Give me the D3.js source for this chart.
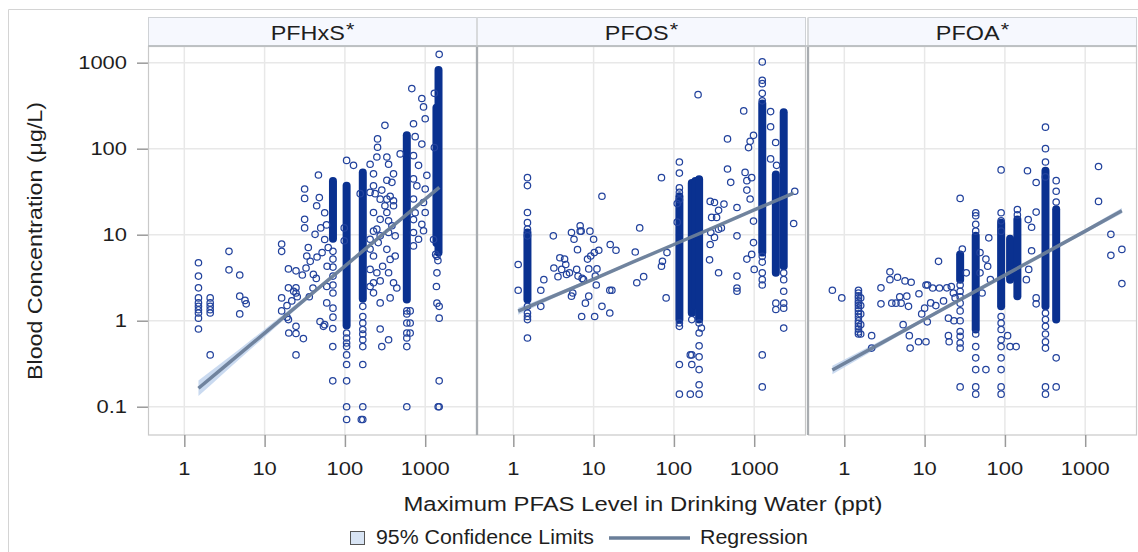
<!DOCTYPE html>
<html>
<head>
<meta charset="utf-8">
<script src="https://cdn.jsdelivr.net/npm/d3@7"></script>
<style>
  html, body { margin: 0; padding: 0; background: #fff; }
  svg { display: block; font-family: "Liberation Sans", Arial, sans-serif; }
</style>
</head>
<body>
<svg id="chart" width="1138" height="552"></svg>
<script>
// ---- Panel names ----
const panelNames = ["PFHxS", "PFOS", "PFOA"];

// ---- Tick labels ----
const xTickValues = [1, 10, 100, 1000];
const yTickValues = [0.1, 1, 10, 100, 1000];

// ---- PFHxS: individual observations [water ppt, blood µg/L] ----
const pfhxsPoints = [
  [1.5,4.72],[1.5,3.3],[1.5,2.41],[1.5,1.84],[1.5,1.61],[1.5,1.47],[1.5,1.34],[1.5,1.23],[1.5,1.07],[1.5,0.8],
  [2.1,1.84],[2.1,1.61],[2.1,1.47],[2.1,1.34],[2.1,1.23],[2.1,0.4],
  [3.6,6.4],[3.6,3.9],[4.9,3.4],[4.9,1.93],[5.7,1.72],[5.9,1.57],[4.9,1.2],
  [16.3,7.8],[16.3,6.4],[19.8,4.0],[24.6,3.8],[29.5,3.4],[19.8,2.41],[24.6,2.41],[24.6,2.1],[23,2.2],[25.5,1.9],
  [16.3,1.84],[21.8,1.7],[19,1.5],[16.3,1.3],[19,1.1],[19.8,1.03],[24.6,0.86],[20,0.72],[24.6,0.71],[30.4,0.62],[24.6,0.4],
  [31.5,34],[31.5,26.4],[31.5,15.1],[31.5,12],[44.5,21.7],[42.5,10.1],[35,7.1],[33.5,5.65],[37,4.9],[32.8,4.1],
  [40.5,3.45],[44,3.1],[46.8,49.5],[49,0.98],[54,0.86],[56,0.9],[59.4,1.61],[60,4.3],[62,7.1],[59.4,2.5],
  [70.6,0.81],[70.6,0.5],[70.6,0.2],[56,18],[59,13],[56,8.8],[36,1.9],[40,2.4],[45,5.5],[50,12],[52,6.2],[48,27],
  [71,6.4],[71,5.2],[71,4.2],[71,3.3],[71,2.6],[71,2.1],[71,1.4],[71,1.1],
  [105,73],[128,64],[105,0.72],[105,0.63],[105,0.55],[105,0.5],[105,0.4],[105,0.31],[105,0.2],[105,0.1],[105,0.071],[98,8.5],[98,12],
  [167,1.47],[167,1.12],[167,0.94],[167,0.79],[167,0.7],[167,0.6],[167,0.5],[167,0.31],[167,0.1],[167,0.071],[160,0.071],[155,30],
  [206,66],[227,51],[255,130],[255,104],[315,187],[250,80],[333,80],[350,66],[403,51],[333,43],[385,40.6],[238,30],
  [275,25.9],[333,25.9],[403,24.8],[227,18.1],[333,18.1],[403,21.7],[275,15.1],[350,14.5],[250,11.6],[350,10.6],
  [423,9.7],[206,8.85],[275,9.7],[227,5.65],[333,6.76],[366,5.16],[423,5.65],[206,3.95],[250,3.61],[350,3.61],
  [227,2.76],[275,2.9],[403,2.76],[227,2.11],[366,1.84],[275,1.61],[275,0.8],[350,0.6],[288,0.5],[443,2.4],[488,87],
  [206,31],[227,37],[288,33],[366,28],[315,21.7],[385,12.7],[227,11],[206,6.8],[260,8.1],[295,4.3],[206,2.5],
  [590,1.3],[590,1.2],[650,1.3],[590,0.94],[650,0.94],[590,0.72],[650,0.72],[590,0.63],[590,0.5],[590,0.1],
  [681,500],[908,383],[953,306],[1000,223],[715,195],[750,138],[908,113],[826,64],[1048,49],[1000,34],[953,23.7],
  [1000,18.1],[908,13.2],[953,11.1],[826,8.85],[715,83],[715,44.5],[715,26],[715,15],[715,10.6],[787,37],[750,18],[715,7.4],
  [1493,1250],[1400,5.6],[1350,5.9],[1440,5.0],[1400,3.6],[1380,2.5],[1400,1.6],[1493,1.47],[1493,1.07],[1493,0.2],
  [1450,0.1],[1493,0.1],[1270,8.8],[1300,103],[1300,440]
];
// PFHxS: densely overlapping stacks [water ppt, lowest, highest]
const pfhxsColumns = [
  [71, 9, 42], [105, 0.88, 37], [167, 1.8, 53], [590, 1.76, 143], [1380, 8, 300], [1465, 6.2, 820]
];
// PFHxS regression and 95% confidence limits
const pfhxsFitX  = [1.5, 3, 10, 30, 100, 300, 1000, 1500];
const pfhxsFit   = [0.164, 0.281, 0.718, 1.69, 4.32, 10.2, 25.9, 35.5];
const pfhxsLower = [0.133, 0.239, 0.647, 1.58, 4.12, 9.75, 24.7, 33.3];
const pfhxsUpper = [0.202, 0.33, 0.796, 1.81, 4.52, 10.6, 27.3, 37.9];

// ---- PFOS ----
const pfosPoints = [
  [1.5,46],[1.5,37.2],[1.5,18.1],[1.5,13.8],[1.5,11.6],[1.5,9.7],[1.5,1.47],[1.5,1.23],[1.5,1.12],[1.5,1.03],[1.5,0.63],
  [1.15,4.5],[1.15,2.26],[2.2,1.47],[2.2,2.26],[2.4,3.0],
  [3.15,9.7],[3.2,4.1],[3.6,3.25],[4.35,5.2],[4.5,4.5],[4.6,3.45],[5.3,10.6],[5.3,1.93],[5.7,8.85],[6.15,3.95],
  [6.3,6.7],[6.8,12.7],[7.0,11],[7.1,1.12],[7.5,3.0],[7.9,1.6],[8.4,5.2],[8.7,4],[8.7,1.93],[9.0,11],[10,8.85],
  [10.2,6.2],[10.3,1.12],[10.5,3.3],[10.8,2.6],[11,4],[11.6,6.6],[12.7,28],[12.7,1.47],[15.9,1.23],[15.9,2.26],
  [16.1,7.7],[16.9,2.26],[19,6.6],[33,6.3],[34.5,2.76],[37.5,12],[42,3.25],[70,46],[72,4.9],[70,4.3],[80,1.84],
  [82,6.2],[3.8,5.4],[4.0,3.95],[5.0,3.6],[5.5,2.1],[6.4,3.3],[7.2,3.1],[9.2,5.65],[6.8,11],
  [117,70],[117,52],[117,35],[117,31],[117,25.5],[117,0.94],[117,0.86],[117,0.31],[117,0.14],[110,23],[110,14],
  [167,1.03],[167,0.4],[160,0.4],[167,0.31],[160,0.14],
  [206,0.72],[206,0.51],[206,0.38],[206,0.27],[206,0.18],[206,0.14],[220,0.82],[206,0.94],
  [283,24.4],[320,23.7],[295,15.9],[420,22.7],[360,19.2],[288,10.6],[320,9.3],[360,11.6],[283,7.7],[278,5.1],
  [360,3.61],[465,130],[465,58],[510,40.6],[610,20.7],[610,9.7],[610,3.3],[610,2.4],[610,2.2],[740,275],[850,103],
  [890,122],[980,143],[770,53],[810,42.5],[930,46],[810,33],[890,26],[980,14.4],[980,8.1],[930,5.9],[810,5.2],
  [1000,3.95],[200,425],[340,15.9],[390,12],
  [1260,1020],[1260,625],[1260,570],[1260,440],[1260,360],[1260,5.6],[1260,4.8],[1260,3.6],[1260,3.0],[1260,2.6],
  [1260,0.4],[1260,0.17],
  [2330,3.6],[2330,3.0],[2330,2.2],[2330,1.6],[2330,1.4],[2330,0.82],[1860,1.6],[1860,1.35],
  [1600,270],[1600,180],[1900,64],[3200,32],[3100,13.5],[1850,118],[1600,76]
];
const pfosColumns = [
  [1.5, 1.76, 10.6], [117, 1.03, 28], [167, 1.23, 40], [185, 1.5, 42], [206, 1.03, 44],
  [1260, 6.2, 335], [1860, 3.6, 50], [2330, 4.3, 265]
];
const pfosFitX  = [1.15, 3.16, 10, 31.6, 100, 316, 1000, 3090];
const pfosFit   = [1.29, 1.93, 3.05, 4.85, 7.69, 12.2, 19.4, 30.5];
const pfosLower = [1.17, 1.82, 2.93, 4.7, 7.48, 11.9, 18.7, 29.0];
const pfosUpper = [1.41, 2.04, 3.18, 5.01, 7.91, 12.6, 20.0, 32.1];

// ---- PFOA ----
const pfoaPoints = [
  [0.71,2.26],[0.93,1.84],
  [1.5,2.26],[1.5,2.1],[1.5,1.95],[1.5,1.84],[1.5,1.7],[1.5,1.6],[1.5,1.5],[1.5,1.4],[1.5,1.3],[1.5,1.2],
  [1.5,1.1],[1.5,1.0],[1.5,0.93],[1.5,0.86],[1.5,0.8],[1.5,0.74],[1.5,0.7],
  [1.6,1.84],[1.6,1.5],[1.6,1.2],[1.6,0.9],[1.6,0.7],
  [2.19,0.67],[2.19,0.48],[2.86,2.41],[2.86,1.57],[3.7,3.7],[3.7,3.0],[4.6,3.2],[3.9,1.6],[4.4,1.6],[4.9,1.9],
  [5.1,1.6],[5.4,0.9],[5.7,2.9],[6.0,1.93],[6.3,1.47],[6.45,0.67],[6.6,0.48],[6.8,2.8],[8.5,2.06],[8.4,0.57],
  [10.4,0.57],[9.2,1.2],[10.4,2.6],[10.9,2.6],[10.0,1.4],[10.8,0.97],[11.9,1.61],[12.6,2.4],[13.8,1.5],[14.9,4.9],
  [15.3,2.4],[17.2,1.7],[18.9,2.41],[19.8,1.07],[19.8,0.67],[20.2,0.57],[21.5,2.5],[22.8,2.1],[24,1.84],[23.2,1.0],
  [27.7,26.4],[27.7,2.6],[27.7,2.2],[27.7,1.9],[27.7,1.6],[27.7,1.3],[27.7,1.0],[27.7,0.75],[27.7,0.66],
  [27.7,0.55],[27.7,0.48],[27.7,0.17],[29.5,6.8],[33,3.6],
  [43.3,18],[43.3,16.6],[43.3,13.2],[43.3,11],[43.3,0.7],[43.3,0.5],[43.3,0.37],[43.3,0.27],[43.3,0.17],[43.3,0.14],
  [49,6.2],[49,3.6],[52,2.1],[58,5.2],[61,4.3],[63,9.2],[66,3.0],[58,0.27],
  [89.7,56.6],[89.7,18],[89.7,14.5],[89.7,11],[89.7,1.12],[89.7,0.94],[89.7,0.79],[89.7,0.6],[89.7,0.5],
  [89.7,0.37],[89.7,0.27],[89.7,0.17],[89.7,0.14],
  [143,19.6],[143,17],[116,0.5],[138,0.5],[108,0.67],
  [191,55.4],[245,40.5],[195,15],[215,12.2],[245,18.3],[215,6.5],[198,3.95],[185,3.0],[245,1.84],[245,1.57],
  [320,178],[320,100],[320,70],[320,47],[320,1.23],[320,1.03],[320,0.86],[320,0.7],[320,0.57],[320,0.48],
  [320,0.17],[320,0.14],
  [435,42.5],[435,32],[435,24],[435,0.37],[435,0.17],
  [1465,62],[1465,24.4],[2088,10.1],[2088,5.75],[2863,6.75],[2863,2.7]
];
const pfoaColumns = [
  [27.7, 3.0, 5.9], [43.3, 0.79, 9.7], [89.7, 1.47, 13.8], [116, 3.0, 9], [143, 1.93, 15],
  [320, 1.47, 55.5], [435, 1.03, 19.8]
];
const pfoaFitX  = [0.71, 3.16, 10, 31.6, 100, 316, 1000, 2860];
const pfoaFit   = [0.267, 0.575, 1.04, 1.88, 3.39, 6.11, 11.0, 19.0];
const pfoaLower = [0.238, 0.537, 0.993, 1.82, 3.3, 5.92, 10.5, 17.6];
const pfoaUpper = [0.3, 0.617, 1.09, 1.94, 3.48, 6.31, 11.6, 20.4];

// ---- Titles and legend labels ----
const xTitle = "Maximum PFAS Level in Drinking Water (ppt)";
const yTitle = "Blood Concentration (μg/L)";
const legendBand = "95% Confidence Limits";
const legendLine = "Regression";

const panels = [
  { name: panelNames[0], points: pfhxsPoints, columns: pfhxsColumns, fx: pfhxsFitX, fit: pfhxsFit, lo: pfhxsLower, hi: pfhxsUpper },
  { name: panelNames[1], points: pfosPoints,  columns: pfosColumns,  fx: pfosFitX,  fit: pfosFit,  lo: pfosLower,  hi: pfosUpper },
  { name: panelNames[2], points: pfoaPoints,  columns: pfoaColumns,  fx: pfoaFitX,  fit: pfoaFit,  lo: pfoaLower,  hi: pfoaUpper }
];

// ---- Layout ----
const svg = d3.select("#chart");
const plotTop = 46.5, plotBottom = 435, headerTop = 17.5;
const panelLefts = [148, 477, 808];
const panelWidth = 329;

const markerColor = "#23439d";
const denseColor = "#0a3190";
const lineColor = "#6a7e99";
const bandColor = "#c4d6ee";
const textColor = "#1e1e1e";

// text drawn with a slightly wide set (horizontal stretch about its anchor)
function label(parent, x, yPos, txt, size, anchor, sx) {
  const g = parent.append("g").attr("transform", `translate(${x},${yPos}) scale(${sx},1)`);
  return g.append("text").attr("text-anchor", anchor).attr("font-size", size).attr("fill", textColor).text(txt);
}

// Outer frame
svg.append("path")
  .attr("d", "M8.5,552 L8.5,9.5 L1138,9.5")
  .attr("fill", "none").attr("stroke", "#d4d4d4").attr("stroke-width", 1);

const y = d3.scaleLog().domain([0.0469, 1542]).range([plotBottom, plotTop]);

// Y axis
const yAxis = svg.append("g").attr("transform", `translate(${panelLefts[0]},0)`)
  .call(d3.axisLeft(y).tickValues(yTickValues).tickFormat("").tickSize(11));
yAxis.select(".domain").remove();
yAxis.selectAll(".tick line").attr("stroke", "#9a9a9a").attr("stroke-width", 1.5);
yTickValues.forEach(v => label(svg, 127, y(v) + 6.6, String(v), 18.6, "end", 1.18));

panels.forEach((p, i) => {
  const left = panelLefts[i];
  const x = d3.scaleLog().domain([0.353, 4416]).range([left, left + panelWidth]);
  const g = svg.append("g");

  // plot background + grid
  g.append("rect").attr("x", left).attr("y", plotTop).attr("width", panelWidth).attr("height", plotBottom - plotTop).attr("fill", "#fff");
  g.selectAll(".gx").data(xTickValues).join("line")
    .attr("x1", d => x(d)).attr("x2", d => x(d)).attr("y1", plotTop).attr("y2", plotBottom)
    .attr("stroke", "#e8e8e8").attr("stroke-width", 1.5);
  g.selectAll(".gy").data(yTickValues).join("line")
    .attr("x1", left).attr("x2", left + panelWidth).attr("y1", d => y(d)).attr("y2", d => y(d))
    .attr("stroke", "#e8e8e8").attr("stroke-width", 1.5);

  // header strip
  g.append("rect").attr("x", left + 0.5).attr("y", headerTop).attr("width", panelWidth - 1).attr("height", plotTop - headerTop - 1)
    .attr("fill", "#f6f8fe").attr("stroke", "#cfd2d6").attr("stroke-width", 1);
  const ht = label(g, left + panelWidth / 2, 39.5, "", 19.5, "middle", 1.2);
  ht.append("tspan").text(p.name);
  ht.append("tspan").text("*").attr("dx", 1).attr("dy", -4).attr("font-size", 18);

  // x axis
  const xa = svg.append("g").attr("transform", `translate(0,${plotBottom})`)
    .call(d3.axisBottom(x).tickValues(xTickValues).tickFormat("").tickSize(12));
  xa.select(".domain").remove();
  xa.selectAll(".tick line").attr("stroke", "#9a9a9a").attr("stroke-width", 1.5);
  xTickValues.forEach(v => label(svg, x(v), 475, String(v), 18.6, "middle", 1.18));

  const clip = "clip" + i;
  svg.append("clipPath").attr("id", clip).append("rect")
    .attr("x", left).attr("y", plotTop).attr("width", panelWidth).attr("height", plotBottom - plotTop);
  const data = g.append("g").attr("clip-path", `url(#${clip})`);

  // confidence band
  const band = p.fx.map((v, k) => ({ x: v, lo: p.lo[k], hi: p.hi[k], f: p.fit[k] }));
  data.append("path").datum(band)
    .attr("d", d3.area().x(d => x(d.x)).y0(d => y(d.lo)).y1(d => y(d.hi)).curve(d3.curveMonotoneX))
    .attr("fill", bandColor).attr("opacity", 0.9);

  // dense stacks of overlapping observations
  data.selectAll(".dense").data(p.columns).join("line")
    .attr("x1", d => x(d[0])).attr("x2", d => x(d[0]))
    .attr("y1", d => y(d[1])).attr("y2", d => y(d[2]))
    .attr("stroke", denseColor).attr("stroke-width", 8).attr("stroke-linecap", "round");

  // individual observations
  data.selectAll(".pt").data(p.points).join("circle")
    .attr("cx", d => x(d[0])).attr("cy", d => y(d[1])).attr("r", 3.2)
    .attr("fill", "none").attr("stroke", markerColor).attr("stroke-width", 1.25);

  // regression line
  data.append("path").datum(band)
    .attr("d", d3.line().x(d => x(d.x)).y(d => y(d.f)))
    .attr("fill", "none").attr("stroke", lineColor).attr("stroke-width", 3.5).attr("opacity", 0.95);

  // plot frame
  g.append("rect").attr("x", left + 0.5).attr("y", plotTop).attr("width", panelWidth - 1).attr("height", plotBottom - plotTop)
    .attr("fill", "none").attr("stroke", "#c9c9c9").attr("stroke-width", 1.2);
});

// heavier separators between panels
[panelLefts[1], panelLefts[2]].forEach(px => {
  svg.append("line").attr("x1", px).attr("x2", px).attr("y1", plotTop).attr("y2", plotBottom)
    .attr("stroke", "#a9adb1").attr("stroke-width", 2.2);
  svg.append("line").attr("x1", px).attr("x2", px).attr("y1", headerTop).attr("y2", plotTop)
    .attr("stroke", "#d8dadc").attr("stroke-width", 2);
});
svg.append("line").attr("x1", panelLefts[0]).attr("x2", panelLefts[2] + panelWidth).attr("y1", plotTop - 0.5).attr("y2", plotTop - 0.5)
  .attr("stroke", "#b9bcbf").attr("stroke-width", 1.5);

// axis titles
svg.append("text").attr("x", 643).attr("y", 510.5).attr("text-anchor", "middle")
  .attr("font-size", 20.5).attr("fill", textColor)
  .attr("textLength", 479).attr("lengthAdjust", "spacingAndGlyphs").text(xTitle);
svg.append("text").attr("transform", "translate(41.5,241) rotate(-90)").attr("text-anchor", "middle")
  .attr("font-size", 20.5).attr("fill", textColor)
  .attr("textLength", 278).attr("lengthAdjust", "spacingAndGlyphs").text(yTitle);

// legend
const lg = svg.append("g");
lg.append("rect").attr("x", 350.5).attr("y", 531.5).attr("width", 14).attr("height", 13)
  .attr("fill", "#d8e4f4").attr("stroke", "#555").attr("stroke-width", 1);
lg.append("text").attr("x", 376).attr("y", 544).attr("font-size", 19.5).attr("fill", textColor)
  .attr("textLength", 218).attr("lengthAdjust", "spacingAndGlyphs").text(legendBand);
lg.append("line").attr("x1", 609).attr("x2", 690).attr("y1", 538).attr("y2", 538)
  .attr("stroke", lineColor).attr("stroke-width", 3.5);
lg.append("text").attr("x", 700).attr("y", 544).attr("font-size", 19.5).attr("fill", textColor)
  .attr("textLength", 108).attr("lengthAdjust", "spacingAndGlyphs").text(legendLine);
</script>
</body>
</html>
